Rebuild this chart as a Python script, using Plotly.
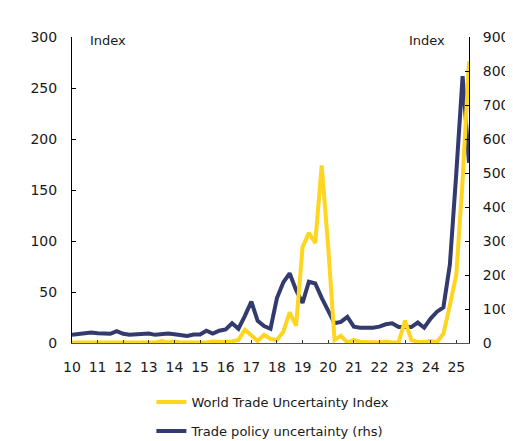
import pandas as pd
import plotly.graph_objects as go

# Quarterly periods 2010Q1 .. 2025Q3
periods = pd.period_range("2010Q1", "2025Q3", freq="Q")
dates = periods.to_timestamp(how="start")

# World Trade Uncertainty Index (lhs)
wui = [
    0.5, 0.5, 0.5, 0.5,
    0.5, 0.5, 0.5, 0.5,
    1.0, 0.5, 0.5, 0.5,
    0.5, 0.5, 2.0, 0.5,
    1.5, 0.5, 0.5, 0.5,
    0.5, 0.5, 1.5, 1.0,
    1.0, 1.5, 3.0, 13.0,
    8.0, 2.0, 8.0, 4.0,
    3.0, 11.0, 30.0, 17.0,
    94.0, 108.0, 98.0, 174.0,
    95.0, 3.0, 7.0, 0.5,
    3.0, 1.0, 1.0, 1.0,
    0.5, 1.5, 0.5, 0.5,
    22.0, 3.0, 1.0, 1.0,
    2.0, 1.0, 9.0, 37.0,
    67.0, 160.0, 276.0,
]

# Trade policy uncertainty (rhs)
tpu = [
    24, 26, 30, 31,
    29, 28, 27, 35,
    27, 24, 25, 27,
    28, 24, 27, 28,
    26, 24, 21, 25,
    25, 36, 28, 36,
    40, 58, 42, 80,
    122, 65, 50, 42,
    132, 178, 205, 155,
    118, 180, 175, 133,
    92, 58, 62, 77,
    48, 45, 45, 45,
    48, 55, 58, 47,
    47, 47, 60, 45,
    72, 92, 105, 230,
    500, 785, 530,
]

series_names = ["World Trade Uncertainty Index", "Trade policy uncertainty (rhs)"]
axis_title = "Index"
yellow = "#FFD520"
navy = "#333A6E"
font = "DejaVu Sans"

fig = go.Figure()
fig.add_trace(go.Scatter(
    x=dates, y=tpu, name=series_names[1], yaxis="y",
    mode="lines", line=dict(color=navy, width=4),
    legendrank=2, legendgroup="b",
))
fig.add_trace(go.Scatter(
    x=dates, y=wui, name=series_names[0], yaxis="y2",
    mode="lines", line=dict(color=yellow, width=4),
    legendrank=1, legendgroup="a",
))

fig.update_layout(
    width=505, height=433,
    margin=dict(l=64, r=44, t=29, b=98),
    paper_bgcolor="white", plot_bgcolor="white",
    font=dict(family=font, size=14, color="#1a1a1a"),
    showlegend=True,
    legend=dict(
        xref="paper", yref="container",
        x=0.2, y=0.1246, xanchor="left", yanchor="top",
        font=dict(size=13, color="#1a1a1a"),
        tracegroupgap=9, traceorder="grouped",
        bgcolor="rgba(0,0,0,0)",
    ),
    xaxis=dict(
        type="date", automargin=False,
        range=[dates[0], dates[-1]],
        tick0="2010-01-01", dtick="M12", tickformat="%y",
        ticks="inside", ticklen=3, tickcolor="#333",
        showline=True, linecolor="#555", linewidth=1,
        showgrid=False, zeroline=False,
        ticklabelstandoff=11,
    ),
    yaxis=dict(
        side="right", range=[0, 900], dtick=100, automargin=False,
        ticks="inside", ticklen=4, tickcolor="#000",
        showline=True, linecolor="#000", linewidth=1,
        showgrid=False, zeroline=False,
        ticklabelstandoff=10,
    ),
    yaxis2=dict(
        side="left", overlaying="y", range=[0, 300], dtick=50, automargin=False,
        ticks="inside", ticklen=4, tickcolor="#000",
        showline=True, linecolor="#000", linewidth=1,
        showgrid=False, zeroline=False,
        ticklabelstandoff=11,
    ),
    annotations=[
        dict(text=axis_title, xref="paper", yref="paper", x=0.04, y=0.987,
             xanchor="left", yanchor="middle", showarrow=False,
             font=dict(size=13, color="#1a1a1a")),
        dict(text=axis_title, xref="paper", yref="paper", x=0.945, y=0.987,
             xanchor="right", yanchor="middle", showarrow=False,
             font=dict(size=13, color="#1a1a1a")),
    ],
)

fig.write_html("out.html")
